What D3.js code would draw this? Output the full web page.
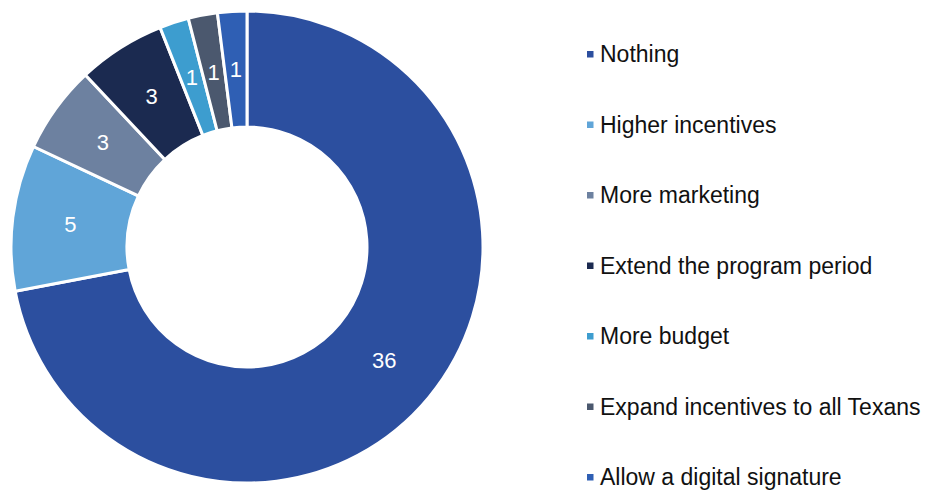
<!DOCTYPE html>
<html>
<head>
<meta charset="utf-8">
<script src="https://cdn.jsdelivr.net/npm/d3@7"></script>
<style>
  html, body { margin: 0; padding: 0; background: #fff; }
  svg { display: block; }
</style>
</head>
<body>
<svg id="chart" width="925" height="493"></svg>
<script>
// Survey answers and counts
const categories = [
  "Nothing",
  "Higher incentives",
  "More marketing",
  "Extend the program period",
  "More budget",
  "Expand incentives to all Texans",
  "Allow a digital signature"
];
const values = [36, 5, 3, 3, 1, 1, 1];
const colors = ["#2c4f9f", "#60a5d8", "#6d81a0", "#1b2a50", "#3d9dcf", "#4b586e", "#2f5fb4"];

const svg = d3.select("#chart");
const cx = 247, cy = 247, outerR = 236, innerR = 120;

const color = d3.scaleOrdinal().domain(categories).range(colors);

const data = categories.map((c, i) => ({ name: c, value: values[i] }));
const pie = d3.pie().value(d => d.value).sort(null);
const arc = d3.arc().innerRadius(innerR).outerRadius(outerR);
const labelArc = d3.arc().innerRadius((innerR + outerR) / 2).outerRadius((innerR + outerR) / 2);

const g = svg.append("g").attr("transform", `translate(${cx},${cy})`);
const arcs = pie(data);

g.selectAll("path.slice")
  .data(arcs)
  .join("path")
  .attr("class", "slice")
  .attr("d", arc)
  .attr("fill", d => color(d.data.name))
  .attr("stroke", "#fff")
  .attr("stroke-width", 3)
  .attr("stroke-linejoin", "miter");

g.selectAll("text.val")
  .data(arcs)
  .join("text")
  .attr("class", "val")
  .attr("transform", d => `translate(${labelArc.centroid(d)})`)
  .attr("text-anchor", "middle")
  .attr("dominant-baseline", "central")
  .attr("font-family", "Liberation Sans, Arial, sans-serif")
  .attr("font-size", 22)
  .attr("fill", "#fff")
  .text(d => d.data.value);

// Legend
const legendY = d3.scalePoint().domain(categories).range([54, 477]);
const legend = svg.append("g");
const items = legend.selectAll("g.item")
  .data(categories)
  .join("g")
  .attr("class", "item")
  .attr("transform", d => `translate(587,${legendY(d)})`);

items.append("rect")
  .attr("x", 0).attr("y", -3)
  .attr("width", 6.5).attr("height", 6.5)
  .attr("fill", d => color(d));

items.append("text")
  .attr("x", 13)
  .attr("dominant-baseline", "central")
  .attr("font-family", "Liberation Sans, Arial, sans-serif")
  .attr("font-size", 23)
  .attr("fill", "#111")
  .text(d => d);
</script>
</body>
</html>
